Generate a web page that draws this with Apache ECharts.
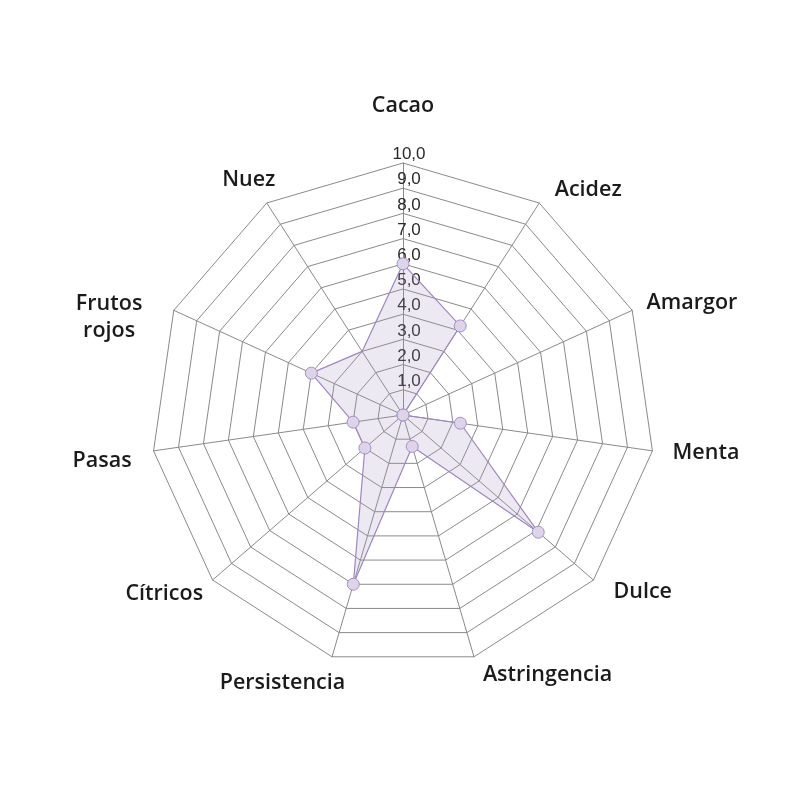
<!DOCTYPE html>
<html>
<head>
<meta charset="utf-8">
<script src="https://cdn.jsdelivr.net/npm/echarts@6/dist/echarts.min.js"></script>
<style>html,body{margin:0;padding:0;background:#fff;}#chart{width:800px;height:800px;}</style>
</head>
<body>
<div id="chart"></div>
<script>
// Clockwise from top
const categories = ['Cacao', 'Acidez', 'Amargor', 'Menta', 'Dulce', 'Astringencia', 'Persistencia', 'Cítricos', 'Pasas', 'Frutos\nrojos', 'Nuez'];
const values = [6.0, 4.2, 0.0, 2.3, 7.1, 1.3, 7.0, 2.0, 2.0, 4.0, 3.0];
// the reference shows no marker dot on the Nuez vertex
const markerShown = [true, true, true, true, true, true, true, true, true, true, false];
const axisMin = 0;
const axisMax = 10;
const tickStep = 1;

// label nudges (layout only), [dx, dy] in px, same order as categories
const labelNudge = [[0, -9], [23, 27], [16, 12], [6, -5], [13, -20], [60, -28], [-36, -20], [-12, -18], [-4, 3], [-21, 26], [8, 17]];

// ECharts places radar indicators counter-clockwise: reorder to keep clockwise layout
const order = [0].concat(categories.map((_, i) => i).slice(1).reverse());
const indicator = order.map((i, k) => {
  const ind = { name: categories[i], min: axisMin, max: axisMax };
  if (k === 0) ind.axisLabel = { show: true };
  return ind;
});
const seriesValues = order.map(i => values[i]);
// hidden-marker points become missing values (drawn at the centre, under the existing centre dot)
const markerValues = order.map(i => markerShown[i] ? values[i] : '-');

const LH = 27;
const baseText = { color: '#1b1b1b', fontFamily: 'Open Sans', fontWeight: 600, fontSize: 21.5, lineHeight: LH };
const rich = {};
categories.forEach((c, i) => {
  const [dx, dy] = labelNudge[i];
  const padL = dx > 0 ? 2 * dx : 0, padR = dx < 0 ? -2 * dx : 0;
  const padT = dy > 0 ? 2 * dy : 0, padB = dy < 0 ? -2 * dy : 0;
  if (c.indexOf('\n') < 0) {
    rich['n' + i] = Object.assign({}, baseText, { padding: [padT, padR, padB, padL] });
  } else {
    rich['n' + i] = Object.assign({}, baseText, { padding: [0, padR, 0, padL] });
  }
});

const chart = echarts.init(document.getElementById('chart'), null, { renderer: 'canvas' });
chart.setOption({
  backgroundColor: '#ffffff',
  animation: false,
  radar: {
    center: [403, 415],
    radius: 252,
    startAngle: 90,
    splitNumber: (axisMax - axisMin) / tickStep,
    shape: 'polygon',
    indicator: indicator,
    nameGap: 48,
    axisName: Object.assign({}, baseText, {
      align: 'center',
      verticalAlign: 'middle',
      rich: rich,
      formatter: function (name) {
        const i = categories.indexOf(name);
        const lines = name.split('\n');
        if (lines.length === 1) return '{n' + i + '|' + name + '}';
        const dy = labelNudge[i][1];
        const blanks = Math.round(Math.abs(dy) / (LH / 2));
        const body = lines.map(l => '{n' + i + '|' + l + '}').join('\n');
        const pad = '\n'.repeat(blanks);
        return dy > 0 ? pad + body : body + pad;
      }
    }),
    axisLine: { show: true, lineStyle: { color: '#8a8a8a', width: 1 } },
    splitLine: { show: true, lineStyle: { color: '#8a8a8a', width: 1 } },
    splitArea: { show: false },
    axisTick: { show: false },
    axisLabel: {
      show: false,
      showMinLabel: false,
      color: '#2a2a2a',
      fontFamily: 'Liberation Sans',
      fontSize: 17,
      margin: -6,
      align: 'center',
      verticalAlign: 'bottom',
      formatter: v => v.toFixed(1).replace('.', ',')
    }
  },
  series: [{
    type: 'radar',
    symbol: 'none',
    lineStyle: { color: '#9c86bc', width: 1.2 },
    areaStyle: { color: 'rgba(170,150,200,0.3)' },
    data: [{ value: seriesValues }]
  }, {
    type: 'radar',
    symbol: 'circle',
    symbolSize: 12,
    lineStyle: { width: 0, opacity: 0 },
    itemStyle: { color: '#ddd4ea', borderColor: '#a690c5', borderWidth: 1 },
    data: [{ value: markerValues }]
  }]
});
</script>
</body>
</html>
